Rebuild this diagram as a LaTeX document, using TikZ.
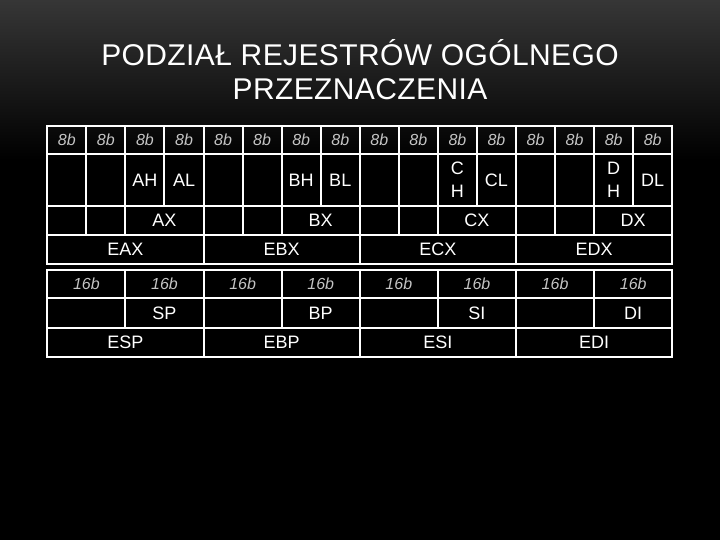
\documentclass[tikz,border=0pt]{standalone}
\usepackage{fontspec}
\setmainfont{Liberation Sans}
\newfontfamily\titlefont[LetterSpace=1.3]{Liberation Sans}
\usetikzlibrary{positioning}
\definecolor{bgtop}{RGB}{54,54,54}
\definecolor{bitgray}{RGB}{196,196,196}
\tikzstyle{cell} = [rectangle, draw=white, line width=2bp, inner sep=0pt,
outer sep=0pt, text=white, align=center, font=\fontsize{18bp}{23bp}\selectfont]
\tikzstyle{bits} = [cell, text=bitgray, font=\fontsize{16bp}{16bp}\selectfont\itshape]
\tikzstyle{title} = [text=white, anchor=base, font=\titlefont\fontsize{30bp}{34bp}\selectfont]
% column width and left edge of both tables
\def\w{39.06}
\def\xo{47.3}

\begin{document}
\begin{tikzpicture}[x=1bp, y=-1bp]
  \useasboundingbox (0,0) rectangle (720,540);
  % background
  \shade[top color=bgtop, bottom color=black] (0,0) rectangle (720,160);
  \fill[black] (0,160) rectangle (720,540);
  % title
  \node[title] (title1) at (360,66) {PODZIAŁ REJESTRÓW OGÓLNEGO};
  \node[title] (title2) at (360,100) {PRZEZNACZENIA};

  % 8-bit table, header
  \foreach \i in {0,...,15} {
    \node[bits, minimum width=\w*1bp, minimum height=28.6bp]
      (b\i) at ({\xo+(\i+0.5)*\w}, 140) {8b};
  }
  % 8-bit table, registers
  \foreach \g/\r/\hi in {0/A/AH, 1/B/BH, 2/C/{C\\H}, 3/D/{D\\H}} {
    % bytes
    \node[cell, minimum width=\w*1bp, minimum height=51.4bp]
      (\r h0) at ({\xo+(4*\g+0.5)*\w}, 180) {};
    \node[cell, minimum width=\w*1bp, minimum height=51.4bp]
      (\r h1) at ({\xo+(4*\g+1.5)*\w}, 180) {};
    \node[cell, minimum width=\w*1bp, minimum height=51.4bp]
      (\r H) at ({\xo+(4*\g+2.5)*\w}, 180) {\hi};
    \node[cell, minimum width=\w*1bp, minimum height=51.4bp]
      (\r L) at ({\xo+(4*\g+3.5)*\w}, 180) {\r L};
    % words
    \node[cell, minimum width=\w*1bp, minimum height=29.3bp]
      (\r x0) at ({\xo+(4*\g+0.5)*\w}, 220.35) {};
    \node[cell, minimum width=\w*1bp, minimum height=29.3bp]
      (\r x1) at ({\xo+(4*\g+1.5)*\w}, 220.35) {};
    \node[cell, minimum width=2*\w*1bp, minimum height=29.3bp]
      (\r X) at ({\xo+(4*\g+3)*\w}, 220.35) {\r X};
    % double words
    \node[cell, minimum width=4*\w*1bp, minimum height=29bp]
      (E\r X) at ({\xo+(4*\g+2)*\w}, 249.5) {E\r X};
  }

  % 16-bit table, header
  \foreach \i in {0,...,7} {
    \node[bits, minimum width=2*\w*1bp, minimum height=28.3bp]
      (s\i) at ({\xo+(2*\i+1)*\w}, 284.15) {16b};
  }
  % 16-bit table, registers
  \foreach \g/\r in {0/SP, 1/BP, 2/SI, 3/DI} {
    \node[cell, minimum width=2*\w*1bp, minimum height=29.4bp]
      (\r 0) at ({\xo+(4*\g+1)*\w}, 313) {};
    \node[cell, minimum width=2*\w*1bp, minimum height=29.4bp]
      (\r) at ({\xo+(4*\g+3)*\w}, 313) {\r};
    \node[cell, minimum width=4*\w*1bp, minimum height=29.6bp]
      (E\r) at ({\xo+(4*\g+2)*\w}, 342.5) {E\r};
  }
\end{tikzpicture}
\end{document}
